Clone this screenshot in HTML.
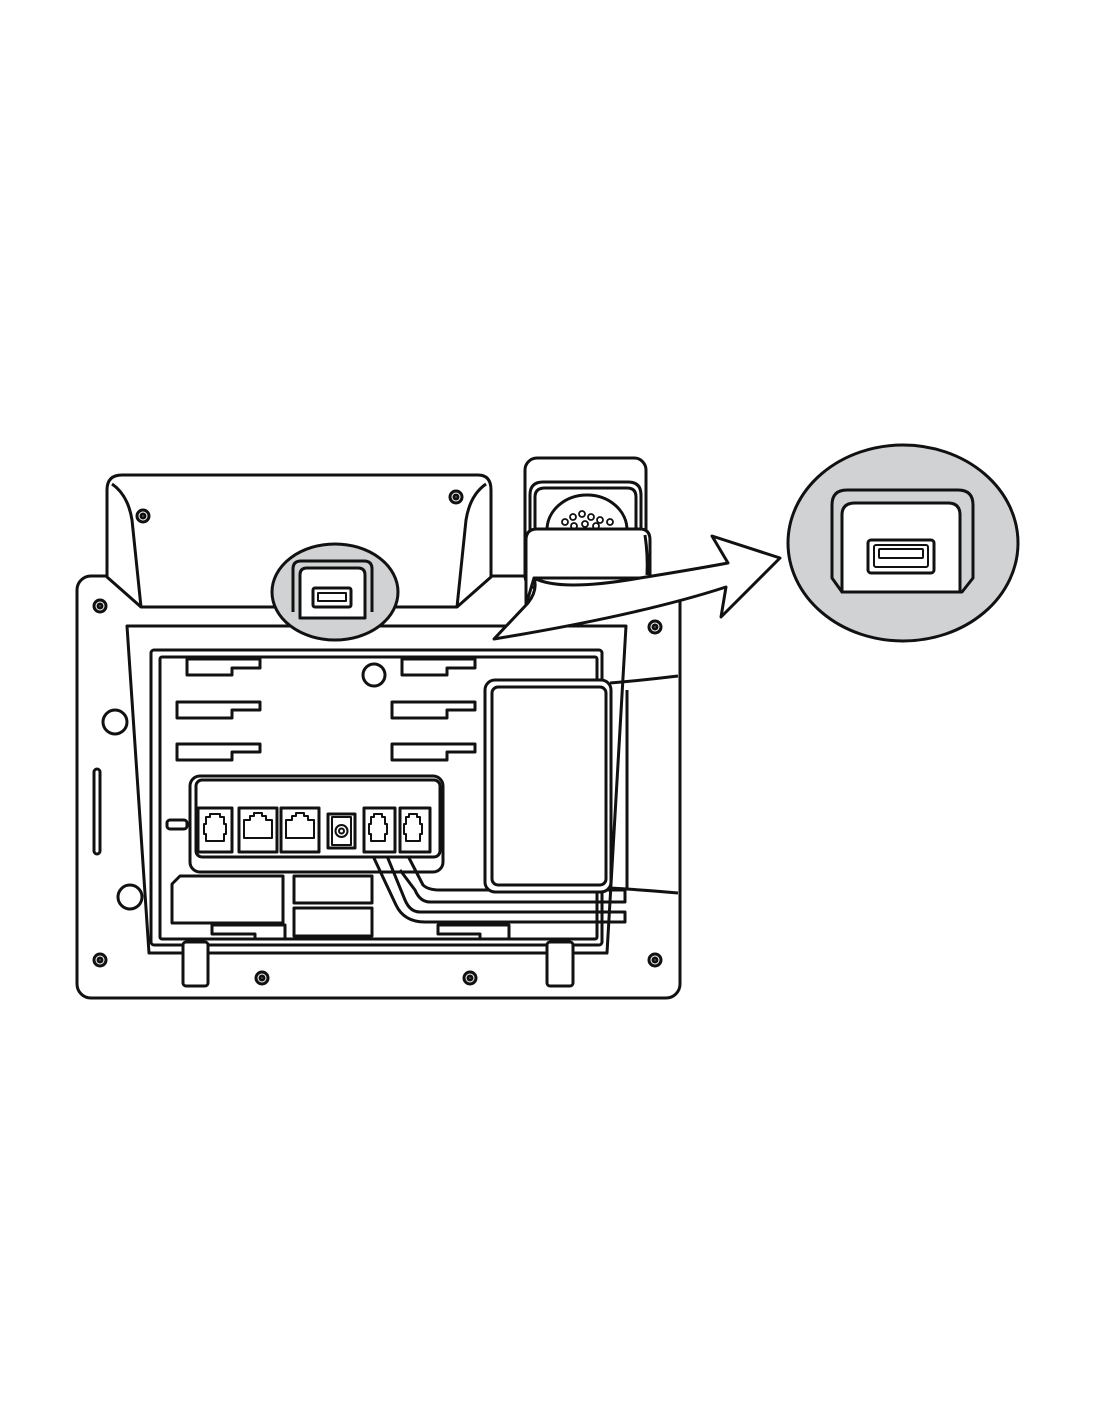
<!DOCTYPE html>
<html><head><meta charset="utf-8"><style>html,body{margin:0;padding:0;background:#fff}svg{display:block}</style></head>
<body>
<svg width="1100" height="1422" viewBox="0 0 1100 1422" xmlns="http://www.w3.org/2000/svg" fill="none" stroke="#111" stroke-width="3" stroke-linejoin="round">
<rect x="77" y="576" width="603" height="422" rx="14" fill="#fff"/>
<g fill="#fff">
<circle cx="100" cy="606" r="6"/><circle cx="100" cy="606" r="2"/>
<circle cx="655" cy="627" r="6"/><circle cx="655" cy="627" r="2"/>
<circle cx="100" cy="960" r="6"/><circle cx="100" cy="960" r="2"/>
<circle cx="262" cy="978" r="6"/><circle cx="262" cy="978" r="2"/>
<circle cx="470" cy="978" r="6"/><circle cx="470" cy="978" r="2"/>
<circle cx="655" cy="960" r="6"/><circle cx="655" cy="960" r="2"/>
<circle cx="115" cy="722" r="12"/><circle cx="130" cy="897" r="12"/>
</g>
<rect x="94" y="769" width="6" height="85" rx="3"/>
<path d="M127 626 L626 626 L607 953 L149 953 Z" fill="#fff"/>
<rect x="151" y="650" width="451" height="295" rx="3"/>
<rect x="160" y="657" width="437" height="282" rx="2"/>
<g>
<path d="M187 659 H260 V668 H232 V675 H187 Z"/>
<path d="M177 702 H260 V710 H232 V718 H177 Z"/>
<path d="M177 744 H260 V752 H232 V760 H177 Z"/>
<path d="M402 659 H475 V668 H447 V675 H402 Z"/>
<path d="M392 702 H475 V710 H447 V718 H392 Z"/>
<path d="M392 744 H475 V752 H447 V760 H392 Z"/>
</g>
<circle cx="374" cy="675" r="11"/>
<rect x="190" y="776" width="253" height="96" rx="10" fill="#fff"/>
<rect x="196" y="780" width="244" height="77" rx="6"/>
<rect x="167" y="820" width="20" height="9" rx="3"/>
<rect x="198" y="808" width="34" height="44"/>
<path d="M206 817 h4 v-3 h10 v3 h4 v7 h2 v10 h-2 v7 h-18 v-7 h-2 v-10 h2 z" stroke-width="2"/>
<rect x="239" y="808" width="38" height="44"/>
<path d="M244 838 v-18 h6 v-4 h4 v-3 h8 v3 h4 v4 h6 v18 z" stroke-width="2"/>
<rect x="281" y="808" width="38" height="44"/>
<path d="M286 838 v-18 h6 v-4 h4 v-3 h8 v3 h4 v4 h6 v18 z" stroke-width="2"/>
<rect x="328" y="814" width="27" height="34"/>
<rect x="332" y="817" width="19" height="28" stroke-width="2"/>
<circle cx="341.5" cy="831" r="6" stroke-width="2"/><circle cx="341.5" cy="831" r="2.5" stroke-width="2"/>
<rect x="364" y="808" width="31" height="44"/>
<path d="M371 817 h3 v-3 h8 v3 h3 v7 h2 v10 h-2 v7 h-14 v-7 h-2 v-10 h2 z" stroke-width="2"/>
<rect x="400" y="808" width="30" height="44"/>
<path d="M406 817 h3 v-3 h8 v3 h3 v7 h2 v10 h-2 v7 h-14 v-7 h-2 v-10 h2 z" stroke-width="2"/>
<path d="M180 876 H283 V923 H172 V884 Z"/>
<rect x="294" y="876" width="78" height="27"/>
<rect x="294" y="908" width="78" height="28"/>
<path d="M212 925 H285 V939 H255 V934 H212 Z"/>
<path d="M438 925 H509 V939 H480 V934 H438 Z"/>
<path d="M373 856 L396 905 Q404 922 425 922 L625 922 V912 L420 912 Q410 912 405 900 L387 856"/>
<path d="M408 856 L423 885 Q428 890 440 890 L625 890 V902 L430 902 Q420 902 415 890 L400 870"/>
<rect x="183" y="942" width="25" height="44" rx="3" fill="#fff"/>
<rect x="547" y="942" width="26" height="44" rx="3" fill="#fff"/>
<rect x="485" y="680" width="126" height="212" rx="10" fill="#fff"/>
<rect x="492" y="687" width="114" height="198" rx="6"/>
<path d="M610 683 Q645 680 678 676 M610 888 Q645 890 678 893 M627 690 V890"/>
<path d="M107 577 L107 490 Q107 475 122 475 L478 475 Q491 475 491 490 L491 577 L457 607 L141 607 Z" fill="#fff"/>
<path d="M112 484 Q128 495 132 520 L141 607 M486 484 Q470 495 466 520 L457 607"/>
<circle cx="143" cy="516" r="6" fill="#fff"/><circle cx="143" cy="516" r="2"/>
<circle cx="456" cy="497" r="6" fill="#fff"/><circle cx="456" cy="497" r="2"/>
<ellipse cx="335" cy="592" rx="63" ry="48" fill="#d1d2d4"/>
<path d="M293 612 V569 Q293 561 301 561 H364 Q372 561 372 569 V612"/>
<path d="M300 618 V575 Q300 568 307 568 H358 Q365 568 365 575 V618 Z" fill="#fff"/>
<rect x="313" y="588" width="38" height="19" rx="2" fill="#fff" stroke-width="3"/>
<rect x="318" y="593" width="28" height="8" stroke-width="2"/>
<rect x="525" y="458" width="121" height="130" rx="12" fill="#fff"/>
<path d="M530 560 V495 Q530 482 543 482 H628 Q641 482 641 495 V560"/>
<path d="M535 560 V497 Q535 488 545 488 H627 Q636 488 636 497 V560"/>
<path d="M547 530 A40 35 0 0 1 627 530" fill="#fff"/>
<g stroke-width="1.8" fill="#fff">
<circle cx="565" cy="522" r="3"/><circle cx="573" cy="517" r="3"/><circle cx="582" cy="514" r="3"/><circle cx="591" cy="517" r="3"/><circle cx="600" cy="520" r="3"/><circle cx="610" cy="522" r="3"/>
<circle cx="574" cy="526" r="3"/><circle cx="585" cy="524" r="3"/><circle cx="596" cy="526" r="3"/>
</g>
<path d="M526 605 V540 Q526 529 537 529 H640 Q650 529 650 540 V578 L534 578 Z" fill="#fff"/>
<path d="M645 535 Q648 555 647 575"/>
<path d="M494 639 L528 603 Q538 590 534 578 Q560 592 640 578 Q690 570 728 563 L712 536 L780 558 L721 617 L726 587 Q640 615 494 639 Z" fill="#fff"/>
<ellipse cx="903" cy="543" rx="115" ry="98" fill="#d1d2d4"/>
<path d="M832 578 V505 Q832 490 847 490 H958 Q973 490 973 505 V578 L962 592 H842 Z" fill="#d1d2d4"/>
<path d="M842 592 V515 Q842 503 855 503 H948 Q960 503 960 515 V592 Z" fill="#fff"/>
<rect x="868" y="540" width="66" height="33" rx="3" fill="#fff" stroke-width="3"/>
<rect x="874" y="545" width="54" height="22" rx="2" stroke-width="2"/>
<rect x="879" y="549" width="44" height="9" rx="1" stroke-width="2"/>
</svg>
</body></html>
